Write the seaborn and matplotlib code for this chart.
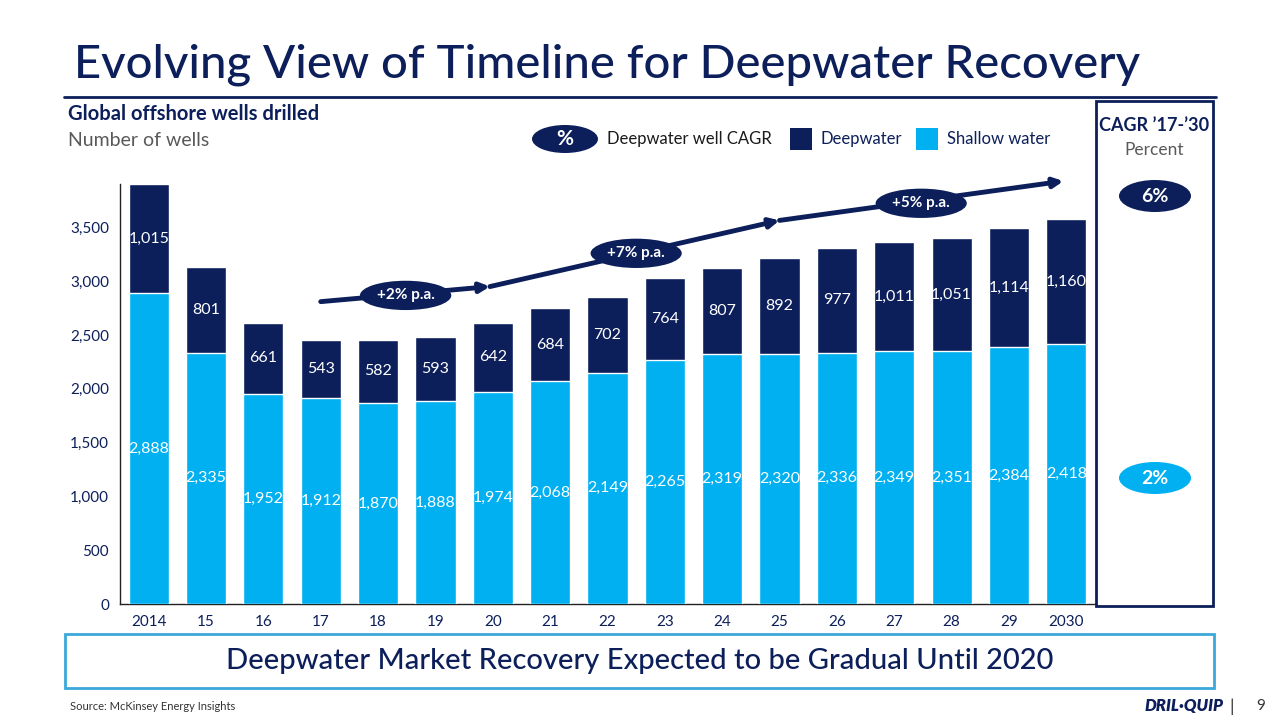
import matplotlib.pyplot as plt
import seaborn as sns
import pandas as pd
from matplotlib.patches import Rectangle, Ellipse
from matplotlib.lines import Line2D
from matplotlib.ticker import FuncFormatter

NAVY = '#0c1f5b'
LIGHT = '#00b0f0'
GRAY = '#595959'

years = ['2014', '15', '16', '17', '18', '19', '20', '21', '22', '23',
         '24', '25', '26', '27', '28', '29', '2030']
shallow = [2888, 2335, 1952, 1912, 1870, 1888, 1974, 2068, 2149, 2265,
           2319, 2320, 2336, 2349, 2351, 2384, 2418]
deep = [1015, 801, 661, 543, 582, 593, 642, 684, 702, 764,
        807, 892, 977, 1011, 1051, 1114, 1160]

# growth arrow path (year index, wells) and pill labels
cagr_labels = ['+2% p.a.', '+7% p.a.', '+5% p.a.']
cagr_path_x = [3.0, 5.95, 11.0, 15.95]
cagr_path_y = [2810, 2950, 3565, 3930]
cagr_label_x = [4.48, 8.5, 13.47]
cagr_label_y = [2868, 3259, 3724]

df = pd.DataFrame({'year': years, 'shallow': shallow, 'deep': deep})
df['total'] = df['shallow'] + df['deep']

sns.set_style('white')
plt.rcParams['font.family'] = ['Lato', 'DejaVu Sans']

fig = plt.figure(figsize=(12.8, 7.2), dpi=100)
ax = fig.add_axes([0.09375, 0.1611, 0.7617, 0.5833])


def pill(x, y, w, h, color, text, size):
    # ellipse badge in figure pixels
    fig.add_artist(Ellipse((x / 1280, 1 - y / 720), w / 1280, h / 720,
                           transform=fig.transFigure, fc=color, ec='none'))
    fig.text(x / 1280, 1 - y / 720, text, color='white', fontsize=size,
             fontweight='bold', ha='center', va='center')


sns.barplot(data=df, x='year', y='total', color=NAVY, width=0.7,
            saturation=1, ax=ax, zorder=2)
sns.barplot(data=df, x='year', y='shallow', color=LIGHT, width=0.7,
            saturation=1, ax=ax, zorder=3)

for i, (s, d) in enumerate(zip(shallow, deep)):
    ax.text(i, s / 2, f'{s:,}', ha='center', va='center', color='white',
            fontsize=11.5, zorder=4)
    ax.text(i, s + d / 2, f'{d:,}', ha='center', va='center', color='white',
            fontsize=11.5, zorder=4)

ax.set_xlim(-0.5, 16.5)
ax.set_ylim(0, 3903)
ax.set_yticks(range(0, 4000, 500))
ax.yaxis.set_major_formatter(FuncFormatter(lambda v, p: f'{int(v):,}'))
ax.set_xlabel('')
ax.set_ylabel('')
ax.tick_params(axis='both', labelsize=11, colors=NAVY, length=0, pad=8)
for sp in ['top', 'right']:
    ax.spines[sp].set_visible(False)
for sp in ['left', 'bottom']:
    ax.spines[sp].set_color('#222222')
    ax.spines[sp].set_linewidth(1)

# growth arrows
for k in range(3):
    ax.annotate('', xy=(cagr_path_x[k + 1], cagr_path_y[k + 1]),
                xytext=(cagr_path_x[k], cagr_path_y[k]),
                arrowprops=dict(arrowstyle='-|>', color=NAVY, lw=3.5,
                                mutation_scale=14, shrinkA=0, shrinkB=0),
                annotation_clip=False, zorder=5)
    ax.text(cagr_label_x[k], cagr_label_y[k], cagr_labels[k], ha='center',
            va='center', color='white', fontsize=11, fontweight='bold',
            bbox=dict(boxstyle='ellipse,pad=0.22', fc=NAVY, ec='none'),
            zorder=6, clip_on=False)

# title and rule
fig.text(0.058, 0.91, 'Evolving View of Timeline for Deepwater Recovery',
         color=NAVY, fontsize=34, fontweight='medium', va='center', ha='left')
fig.add_artist(Line2D([0.05, 0.95], [0.865, 0.865], color=NAVY, lw=2))

fig.text(0.053, 0.842, 'Global offshore wells drilled', color=NAVY,
         fontsize=14.5, fontweight='bold', va='center')
fig.text(0.053, 0.805, 'Number of wells', color=GRAY, fontsize=14, va='center')

# legend
pill(565, 139, 66, 28, NAVY, '%', 15)
fig.text(0.474, 0.807, 'Deepwater well CAGR', color='#1a1a1a', fontsize=12,
         va='center')
fig.add_artist(Rectangle((0.617, 0.792), 0.0172, 0.0306,
                         transform=fig.transFigure, fc=NAVY, ec='none'))
fig.text(0.641, 0.807, 'Deepwater', color=NAVY, fontsize=12, va='center')
fig.add_artist(Rectangle((0.716, 0.792), 0.0172, 0.0306,
                         transform=fig.transFigure, fc=LIGHT, ec='none'))
fig.text(0.740, 0.807, 'Shallow water', color=NAVY, fontsize=12, va='center')

# right panel
fig.add_artist(Rectangle((0.856, 0.158), 0.092, 0.702,
                         transform=fig.transFigure, fc='none', ec=NAVY, lw=2))
fig.text(0.902, 0.826, "CAGR \u201917-\u201930", color=NAVY, fontsize=13,
         fontweight='bold', ha='center', va='center')
fig.text(0.902, 0.792, 'Percent', color=GRAY, fontsize=12.5, ha='center',
         va='center')
pill(1155, 196, 72, 32, NAVY, '6%', 14)
pill(1155, 478, 72, 32, LIGHT, '2%', 14)

# bottom message box
fig.add_artist(Rectangle((0.0508, 0.0444), 0.898, 0.075,
                         transform=fig.transFigure, fc='white', ec='#3aa8d8',
                         lw=2))
fig.text(0.5, 0.082, 'Deepwater Market Recovery Expected to be Gradual Until 2020',
         color=NAVY, fontsize=21, fontweight='medium', ha='center', va='center')

fig.text(0.055, 0.019, 'Source: McKinsey Energy Insights', color='#333333',
         fontsize=8, va='center')
fig.text(0.925, 0.019, 'DRIL\u00b7QUIP', color=NAVY, fontsize=12,
         fontweight='heavy', style='italic', ha='center', va='center')
fig.text(0.962, 0.019, '|', color='#333333', fontsize=13, ha='center',
         va='center')
fig.text(0.985, 0.019, '9', color='#333333', fontsize=11, ha='center',
         va='center')

fig.savefig('out.png', dpi=100)
plt.close(fig)
